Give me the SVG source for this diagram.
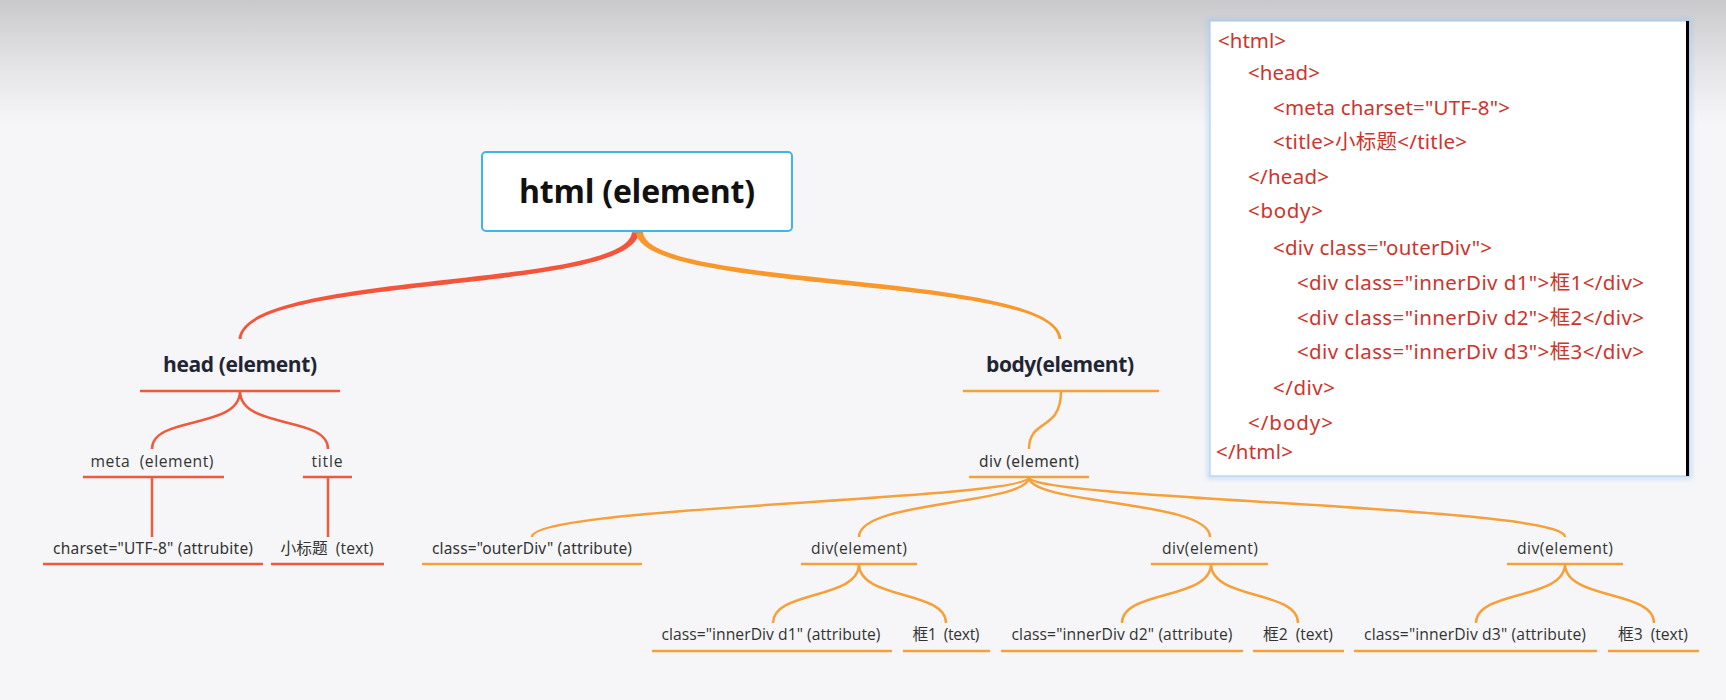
<svg xmlns="http://www.w3.org/2000/svg" width="1726" height="700" viewBox="0 0 1726 700">
<defs>
<linearGradient id="topfade" x1="0" y1="0" x2="0" y2="1">
<stop offset="0" stop-color="#c9c9cb"/>
<stop offset="0.5" stop-color="#e3e3e5"/>
<stop offset="1" stop-color="#f6f6f8"/>
</linearGradient>
<filter id="glow" x="-10%" y="-10%" width="120%" height="120%">
<feGaussianBlur stdDeviation="2.5"/>
</filter>
<style>
text{white-space:pre}
.red{stroke:#EF5A3C;fill:none;stroke-width:2.5}
.org{stroke:#F6A03A;fill:none;stroke-width:2.5}
.h1{font-family:"Open Sans","Noto Sans",sans-serif;font-weight:700;font-size:32px;fill:#111;text-anchor:middle}
.h2{font-family:"Open Sans","Noto Sans",sans-serif;font-weight:700;font-size:21px;fill:#1f2533;text-anchor:middle}
.lb{font-family:"Open Sans","Noto Sans","Noto Sans CJK SC",sans-serif;font-size:15.7px;fill:#333;text-anchor:middle}
.ln{font-family:"Noto Sans","Noto Sans CJK SC",sans-serif;font-size:15.5px;fill:#333;text-anchor:middle}
.code{font-family:"Noto Sans","Noto Sans CJK SC",sans-serif;font-size:20.5px;fill:#cc352d}
</style>
</defs>
<rect x="0" y="0" width="1726" height="700" fill="#f6f6f8"/>
<rect x="0" y="0" width="1726" height="125" fill="url(#topfade)"/>

<g id="connectors">
<path d="M632,232 C627,289 244,270 238.5,339 L241.5,339 C246,275 634,295 639,232 Z" fill="#F4553A"/>
<path d="M643,232 C648,289 1056,270 1061.5,339 L1058.5,339 C1054,275 640,295 636,232 Z" fill="#F8982A"/>
<rect x="632" y="228" width="10" height="5" fill="#b59a80"/>
<path class="red" d="M240,391 C240,430 152,415 152,449"/>
<path class="red" d="M240,391 C240,430 328,415 328,449"/>
<path class="red" d="M152,477 V537"/>
<path class="red" d="M328,477 V537"/>
<path class="org" d="M1061,391 C1061,432 1029,418 1029,449"/>
<path class="org" d="M1029,477 C1029,500 532,506 532,537"/>
<path class="org" d="M1029,477 C1029,505 859,500 859,537"/>
<path class="org" d="M1029,477 C1029,505 1210,500 1210,537"/>
<path class="org" d="M1029,477 C1029,500 1565,506 1565,537"/>
<path class="org" d="M859,564 C859,600 773,590 773,623"/>
<path class="org" d="M859,564 C859,600 946,590 946,623"/>
<path class="org" d="M1211,564 C1211,600 1122,590 1122,623"/>
<path class="org" d="M1211,564 C1211,600 1298,590 1298,623"/>
<path class="org" d="M1565,564 C1565,600 1476,590 1476,623"/>
<path class="org" d="M1565,564 C1565,600 1654,590 1654,623"/>
</g>

<g id="node-html">
<rect x="482" y="152" width="310" height="79" rx="4" fill="#ffffff" stroke="#3fb4ec" stroke-width="2"/>
<text class="h1" x="637" y="203" textLength="236">html (element)</text>
</g>
<g id="node-head">
<text class="h2" x="240" y="372" textLength="154">head (element)</text>
<path class="red" d="M140,391 H340"/>
</g>
<g id="node-body">
<text class="h2" x="1060" y="372" textLength="148">body(element)</text>
<path class="org" d="M963,391 H1159"/>
</g>
<g id="node-meta">
<text class="lb" x="152" y="467" textLength="123">meta  (element)</text>
<path class="red" d="M83,477 H224"/>
</g>
<g id="node-title">
<text class="lb" x="327" y="467" textLength="31">title</text>
<path class="red" d="M303,477 H352"/>
</g>
<g id="node-charset">
<text class="ln" x="153" y="554" textLength="200">charset="UTF-8" (attrubite)</text>
<path class="red" d="M43,564 H263"/>
</g>
<g id="node-title-text">
<text class="lb" x="327" y="554" textLength="93">小标题  (text)</text>
<path class="red" d="M271,564 H384"/>
</g>
<g id="node-div-outer">
<text class="ln" x="1029" y="467" textLength="100">div (element)</text>
<path class="org" d="M969,477 H1089"/>
</g>
<g id="node-outer-class">
<text class="ln" x="532" y="554" textLength="200">class="outerDiv" (attribute)</text>
<path class="org" d="M422,564 H642"/>
</g>
<g id="node-div1">
<text class="lb" x="859" y="554" textLength="96">div(element)</text>
<path class="org" d="M801,564 H917"/>
</g>
<g id="node-div2">
<text class="lb" x="1210" y="554" textLength="96">div(element)</text>
<path class="org" d="M1151,564 H1268"/>
</g>
<g id="node-div3">
<text class="lb" x="1565" y="554" textLength="96">div(element)</text>
<path class="org" d="M1507,564 H1623"/>
</g>
<g id="node-d1-class">
<text class="lb" x="771" y="640" textLength="219">class="innerDiv d1" (attribute)</text>
<path class="org" d="M652,651 H892"/>
</g>
<g id="node-d1-text">
<text class="lb" x="946" y="640" textLength="67">框1  (text)</text>
<path class="org" d="M903,651 H990"/>
</g>
<g id="node-d2-class">
<text class="lb" x="1122" y="640" textLength="221">class="innerDiv d2" (attribute)</text>
<path class="org" d="M1001,651 H1243"/>
</g>
<g id="node-d2-text">
<text class="lb" x="1298" y="640" textLength="70">框2  (text)</text>
<path class="org" d="M1253,651 H1344"/>
</g>
<g id="node-d3-class">
<text class="lb" x="1475" y="640" textLength="222">class="innerDiv d3" (attribute)</text>
<path class="org" d="M1354,651 H1597"/>
</g>
<g id="node-d3-text">
<text class="lb" x="1653" y="640" textLength="70">框3  (text)</text>
<path class="org" d="M1608,651 H1699"/>
</g>

<g id="code-box">
<rect x="1209" y="20" width="481" height="457" fill="none" stroke="#9cc6f2" stroke-width="3" opacity="0.7" filter="url(#glow)"/>
<rect x="1210" y="21" width="479" height="455" fill="#ffffff" stroke="#a6c8ee" stroke-width="1"/>
<rect x="1686" y="21" width="3" height="455" fill="#000000"/>
<text class="code" x="1218" y="48" textLength="68">&lt;html&gt;</text>
<text class="code" x="1248" y="80" textLength="72">&lt;head&gt;</text>
<text class="code" x="1273" y="115" textLength="237">&lt;meta charset="UTF-8"&gt;</text>
<text class="code" x="1273" y="149" textLength="194">&lt;title&gt;小标题&lt;/title&gt;</text>
<text class="code" x="1248" y="184" textLength="81">&lt;/head&gt;</text>
<text class="code" x="1248" y="218" textLength="75">&lt;body&gt;</text>
<text class="code" x="1273" y="255" textLength="219">&lt;div class="outerDiv"&gt;</text>
<text class="code" x="1297" y="290" textLength="347">&lt;div class="innerDiv d1"&gt;框1&lt;/div&gt;</text>
<text class="code" x="1297" y="325" textLength="347">&lt;div class="innerDiv d2"&gt;框2&lt;/div&gt;</text>
<text class="code" x="1297" y="359" textLength="347">&lt;div class="innerDiv d3"&gt;框3&lt;/div&gt;</text>
<text class="code" x="1273" y="395" textLength="62">&lt;/div&gt;</text>
<text class="code" x="1248" y="430" textLength="85">&lt;/body&gt;</text>
<text class="code" x="1216" y="459" textLength="77">&lt;/html&gt;</text>
</g>
</svg>
